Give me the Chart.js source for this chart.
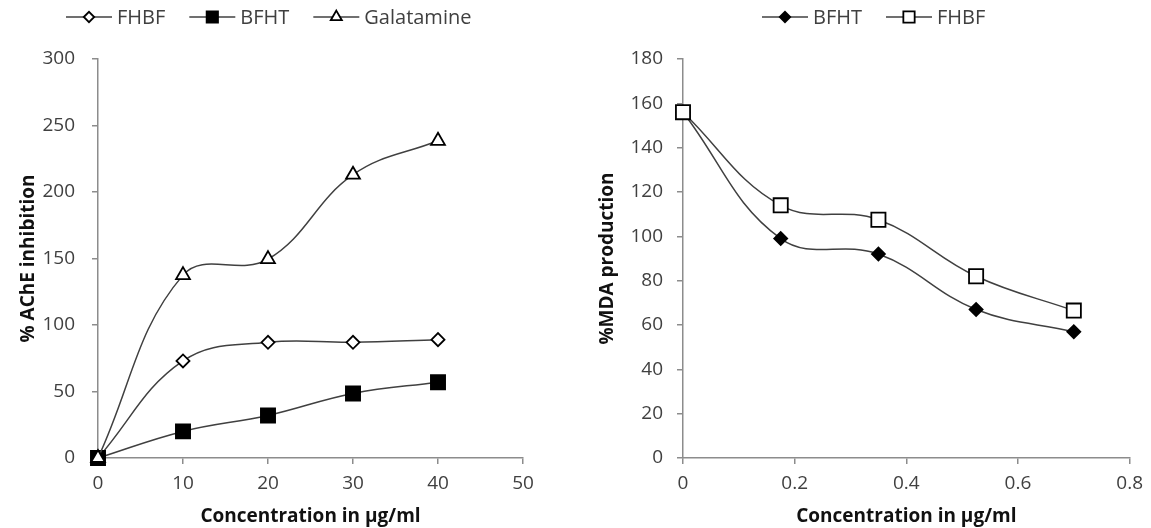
<!DOCTYPE html>
<html>
<head>
<meta charset="utf-8">
<script src="https://cdn.jsdelivr.net/npm/chart.js@4"></script>
<style>
  body { margin: 0; background: #fff; }
  .box { position: absolute; top: 0; height: 528px; }
  #left { left: 0; width: 576px; }
  #right { left: 576px; width: 575px; }
</style>
</head>
<body>
<div class="box" id="left"><canvas id="acheChart"></canvas></div>
<div class="box" id="right"><canvas id="mdaChart"></canvas></div>
<script>
// left chart: AChE inhibition
const acheConc = [0, 10, 20, 30, 40];
const acheFHBF = [0, 73, 87, 87, 89];
const acheBFHT = [0, 20, 32, 48.5, 57];
const acheGalatamine = [0, 137.5, 149.5, 213, 238.5];
const acheXTicks = [0, 10, 20, 30, 40, 50];
const acheYTicks = [0, 50, 100, 150, 200, 250, 300];

// right chart: MDA production
const mdaConc = [0, 0.175, 0.35, 0.525, 0.7];
const mdaBFHT = [156, 99, 92, 67, 57];
const mdaFHBF = [156, 114, 107.5, 82, 66.5];
const mdaXTicks = [0, 0.2, 0.4, 0.6, 0.8];
const mdaYTicks = [0, 20, 40, 60, 80, 100, 120, 140, 160, 180];

const FONT = "'Open Sans', sans-serif";
const LINE = "#404040";
const AXIS = "#8c8c8c";

function pts(xs, ys) {
  return xs.map((x, i) => ({ x: x, y: ys[i] }));
}

function series(label, xs, ys, style, radius, fill, order) {
  return {
    label: label,
    data: pts(xs, ys),
    borderColor: LINE,
    borderWidth: 1.5,
    tension: 0.4,
    clip: false,
    pointStyle: style,
    pointRadius: radius,
    pointHoverRadius: radius,
    pointBackgroundColor: fill,
    pointBorderColor: "#000",
    pointBorderWidth: 1.8,
    order: order,
  };
}

// legend with line + marker, like the spreadsheet one
const lineLegend = {
  id: "lineLegend",
  afterDraw(chart, args, opts) {
    const ctx = chart.ctx;
    let x = opts.x;
    const y = opts.y;
    ctx.save();
    ctx.font = "20px " + FONT;
    ctx.textBaseline = "middle";
    chart.data.datasets.forEach((ds) => {
      ctx.strokeStyle = ds.borderColor;
      ctx.lineWidth = ds.borderWidth;
      ctx.beginPath();
      ctx.moveTo(x, y);
      ctx.lineTo(x + opts.lineLength, y);
      ctx.stroke();
      ctx.fillStyle = ds.pointBackgroundColor;
      ctx.strokeStyle = ds.pointBorderColor;
      ctx.lineWidth = ds.pointBorderWidth;
      Chart.helpers.drawPoint(ctx, {
        pointStyle: ds.pointStyle,
        radius: ds.pointRadius * 0.8,
        borderWidth: ds.pointBorderWidth,
        rotation: 0,
      }, x + opts.lineLength / 2, y);
      x += opts.lineLength + 5;
      ctx.fillStyle = "#404040";
      ctx.fillText(ds.label, x, y + 1);
      x += ctx.measureText(ds.label).width + 24;
    });
    ctx.restore();
  },
};

function makeOptions(cfg) {
  return {
    responsive: true,
    maintainAspectRatio: false,
    animation: false,
    devicePixelRatio: 1,
    layout: { padding: { left: 0, right: cfg.padRight, top: 59, bottom: 0 } },
    plugins: {
      legend: { display: false },
      tooltip: { enabled: false },
      lineLegend: { x: cfg.legendX, y: 17, lineLength: 46 },
    },
    scales: {
      x: {
        type: "linear",
        min: cfg.xTicks[0],
        max: cfg.xTicks[cfg.xTicks.length - 1],
        afterBuildTicks: (s) => { s.ticks = cfg.xTicks.map((v) => ({ value: v })); },
        afterFit: (s) => { s.height = 70; },
        grid: { display: true, drawOnChartArea: false, drawTicks: true, tickLength: 6, color: AXIS, lineWidth: 1.5 },
        border: { color: AXIS, width: 1.5 },
        ticks: { color: "#404040", font: { family: FONT, size: 19 }, padding: 8, maxRotation: 0 },
        title: {
          display: true,
          text: "Concentration in μg/ml",
          color: "#111",
          font: { family: FONT, size: 19, weight: "bold" },
          padding: { top: 0, bottom: 0 },
        },
      },
      y: {
        min: cfg.yTicks[0],
        max: cfg.yTicks[cfg.yTicks.length - 1],
        afterBuildTicks: (s) => { s.ticks = cfg.yTicks.map((v) => ({ value: v })); },
        afterFit: (s) => { s.width = cfg.yWidth; },
        grid: { display: true, drawOnChartArea: false, drawTicks: true, tickLength: 6, color: AXIS, lineWidth: 1.5 },
        border: { color: AXIS, width: 1.5 },
        ticks: { color: "#404040", font: { family: FONT, size: 19 }, padding: cfg.yPad },
        title: {
          display: true,
          text: cfg.yTitle,
          color: "#111",
          font: { family: FONT, size: 19, weight: "bold" },
          padding: { top: cfg.yTitlePad, bottom: 0 },
        },
      },
    },
  };
}

new Chart(document.getElementById("acheChart"), {
  type: "line",
  data: {
    datasets: [
      series("FHBF", acheConc, acheFHBF, "rectRot", 6.5, "#fff", 2),
      series("BFHT", acheConc, acheBFHT, "rect", 10, "#000", 1),
      series("Galatamine", acheConc, acheGalatamine, "triangle", 8, "#fff", 0),
    ],
  },
  options: makeOptions({
    padRight: 53, legendX: 66, xTicks: acheXTicks, yTicks: acheYTicks,
    yWidth: 98, yPad: 17, yTitle: "% AChE inhibition", yTitlePad: 17,
  }),
  plugins: [lineLegend],
});

new Chart(document.getElementById("mdaChart"), {
  type: "line",
  data: {
    datasets: [
      series("BFHT", mdaConc, mdaBFHT, "rectRot", 6.5, "#000", 1),
      series("FHBF", mdaConc, mdaFHBF, "rect", 10, "#fff", 0),
    ],
  },
  options: makeOptions({
    padRight: 19, legendX: 186, xTicks: mdaXTicks, yTicks: mdaYTicks,
    yWidth: 107, yPad: 14, yTitle: "%MDA production", yTitlePad: 20,
  }),
  plugins: [lineLegend],
});
</script>
</body>
</html>
